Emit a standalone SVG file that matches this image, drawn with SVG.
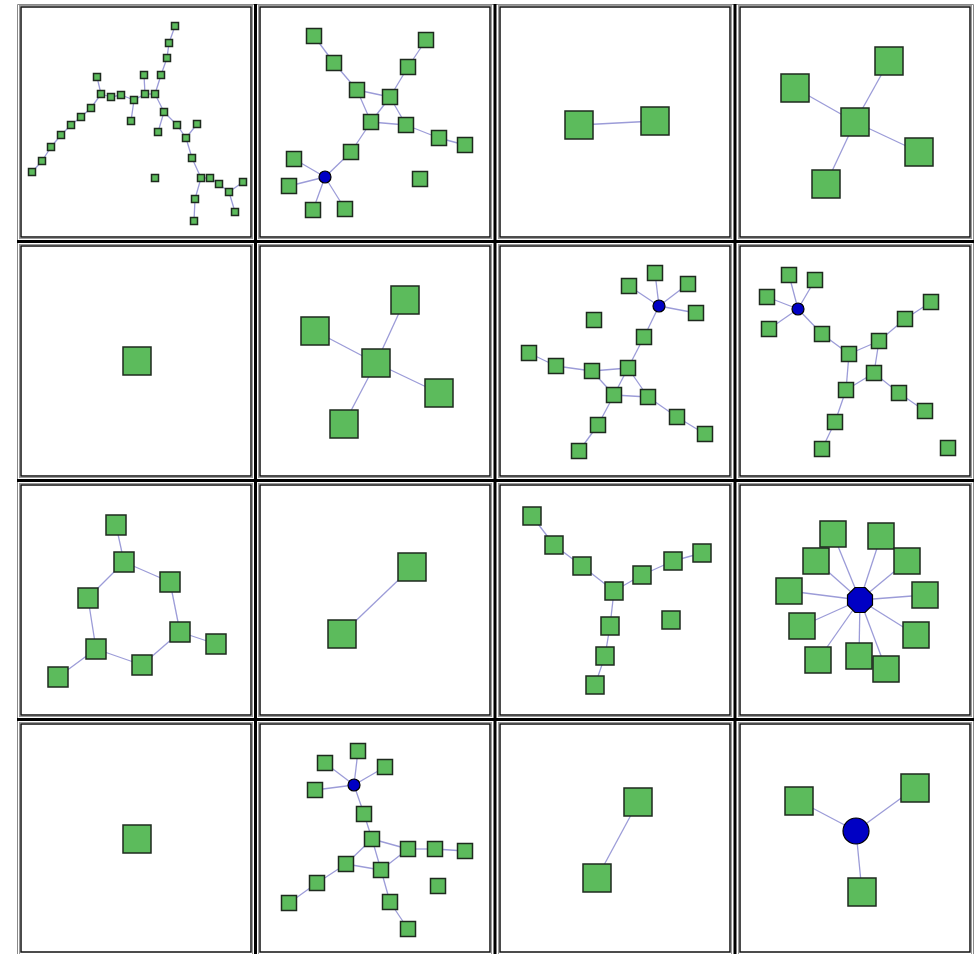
<svg xmlns="http://www.w3.org/2000/svg" xmlns:xlink="http://www.w3.org/1999/xlink" width="975" height="954" viewBox="0 0 975 954">
<style>
.n{fill:#5cbb5c;stroke:#1e2a1e;stroke-width:1.5}
.b{fill:#0000c4;stroke:#000;stroke-width:1.2}
.e line{stroke:#9c9cd8;stroke-width:1.3}
.cell{fill:#fff;stroke:#111;stroke-width:1.5}
.cellg{fill:none;stroke:#9a9a9a;stroke-width:1}
.sep{stroke:#000;stroke-width:3}
.og{fill:none;stroke:#8a8a8a;stroke-width:1}
</style>
<defs>
<rect id="s7" x="-3.5" y="-3.5" width="7" height="7" class="n"/>
<rect id="s15" x="-7.5" y="-7.5" width="15" height="15" class="n"/>
<rect id="s18" x="-9" y="-9" width="18" height="18" class="n"/>
<rect id="s20" x="-10" y="-10" width="20" height="20" class="n"/>
<rect id="s26" x="-13" y="-13" width="26" height="26" class="n"/>
<rect id="s28" x="-14" y="-14" width="28" height="28" class="n"/>
<circle id="c6" r="6" class="b"/>
</defs>
<rect width="975" height="954" fill="#fff"/>
<g id="frame">
<path class="og" d="M17.5,954V4.5H973.5V954"/>
<g class="sep">
<line x1="255.5" y1="4" x2="255.5" y2="954"/>
<line x1="495" y1="4" x2="495" y2="954"/>
<line x1="735" y1="4" x2="735" y2="954"/>
<line x1="17" y1="241.5" x2="974" y2="241.5"/>
<line x1="17" y1="480.5" x2="974" y2="480.5"/>
<line x1="17" y1="719.5" x2="974" y2="719.5"/>
</g>
<g>
<rect class="cellg" x="19.5" y="5.5" width="233" height="233"/><rect class="cell" x="21" y="7" width="230" height="230"/>
<rect class="cellg" x="258.5" y="5.5" width="233" height="233"/><rect class="cell" x="260" y="7" width="230" height="230"/>
<rect class="cellg" x="498.5" y="5.5" width="233" height="233"/><rect class="cell" x="500" y="7" width="230" height="230"/>
<rect class="cellg" x="738.5" y="5.5" width="233" height="233"/><rect class="cell" x="740" y="7" width="230" height="230"/>
<rect class="cellg" x="19.5" y="244.5" width="233" height="233"/><rect class="cell" x="21" y="246" width="230" height="230"/>
<rect class="cellg" x="258.5" y="244.5" width="233" height="233"/><rect class="cell" x="260" y="246" width="230" height="230"/>
<rect class="cellg" x="498.5" y="244.5" width="233" height="233"/><rect class="cell" x="500" y="246" width="230" height="230"/>
<rect class="cellg" x="738.5" y="244.5" width="233" height="233"/><rect class="cell" x="740" y="246" width="230" height="230"/>
<rect class="cellg" x="19.5" y="483.5" width="233" height="233"/><rect class="cell" x="21" y="485" width="230" height="230"/>
<rect class="cellg" x="258.5" y="483.5" width="233" height="233"/><rect class="cell" x="260" y="485" width="230" height="230"/>
<rect class="cellg" x="498.5" y="483.5" width="233" height="233"/><rect class="cell" x="500" y="485" width="230" height="230"/>
<rect class="cellg" x="738.5" y="483.5" width="233" height="233"/><rect class="cell" x="740" y="485" width="230" height="230"/>
<rect class="cellg" x="19.5" y="722.5" width="233" height="232"/><rect class="cell" x="21" y="724" width="230" height="228"/>
<rect class="cellg" x="258.5" y="722.5" width="233" height="232"/><rect class="cell" x="260" y="724" width="230" height="228"/>
<rect class="cellg" x="498.5" y="722.5" width="233" height="232"/><rect class="cell" x="500" y="724" width="230" height="228"/>
<rect class="cellg" x="738.5" y="722.5" width="233" height="232"/><rect class="cell" x="740" y="724" width="230" height="228"/>
</g>
</g>
<g id="connectors" class="e">
<!-- panel 1 -->
<line x1="175" y1="26" x2="169" y2="43"/><line x1="169" y1="43" x2="167" y2="58"/><line x1="167" y1="58" x2="161" y2="75"/><line x1="161" y1="75" x2="155" y2="94"/>
<line x1="144" y1="75" x2="145" y2="94"/><line x1="97" y1="77" x2="101" y2="94"/><line x1="101" y1="94" x2="111" y2="97"/><line x1="111" y1="97" x2="121" y2="95"/>
<line x1="121" y1="95" x2="134" y2="100"/><line x1="134" y1="100" x2="145" y2="94"/><line x1="134" y1="100" x2="131" y2="121"/><line x1="145" y1="94" x2="155" y2="94"/>
<line x1="155" y1="94" x2="164" y2="112"/><line x1="164" y1="112" x2="158" y2="132"/><line x1="164" y1="112" x2="177" y2="125"/><line x1="177" y1="125" x2="186" y2="138"/>
<line x1="197" y1="124" x2="186" y2="138"/><line x1="186" y1="138" x2="192" y2="158"/><line x1="192" y1="158" x2="201" y2="178"/><line x1="201" y1="178" x2="210" y2="178"/>
<line x1="210" y1="178" x2="219" y2="184"/><line x1="219" y1="184" x2="229" y2="192"/><line x1="229" y1="192" x2="243" y2="182"/><line x1="229" y1="192" x2="235" y2="212"/>
<line x1="201" y1="178" x2="195" y2="199"/><line x1="195" y1="199" x2="194" y2="221"/><line x1="101" y1="94" x2="91" y2="108"/><line x1="91" y1="108" x2="81" y2="117"/>
<line x1="81" y1="117" x2="71" y2="125"/><line x1="71" y1="125" x2="61" y2="135"/><line x1="61" y1="135" x2="51" y2="147"/><line x1="51" y1="147" x2="42" y2="161"/><line x1="42" y1="161" x2="32" y2="172"/>
<!-- panel 2 -->
<line x1="314" y1="36" x2="334" y2="63"/><line x1="334" y1="63" x2="357" y2="90"/><line x1="357" y1="90" x2="390" y2="97"/><line x1="357" y1="90" x2="371" y2="122"/>
<line x1="390" y1="97" x2="408" y2="67"/><line x1="408" y1="67" x2="426" y2="40"/><line x1="390" y1="97" x2="371" y2="122"/><line x1="390" y1="97" x2="406" y2="125"/>
<line x1="371" y1="122" x2="406" y2="125"/><line x1="406" y1="125" x2="439" y2="138"/><line x1="439" y1="138" x2="465" y2="145"/><line x1="371" y1="122" x2="351" y2="152"/>
<line x1="351" y1="152" x2="325" y2="177"/><line x1="325" y1="177" x2="294" y2="159"/><line x1="325" y1="177" x2="289" y2="186"/><line x1="325" y1="177" x2="313" y2="210"/><line x1="325" y1="177" x2="345" y2="209"/>
<!-- panel 3 -->
<line x1="579" y1="125" x2="655" y2="121"/>
<!-- panel 4 -->
<line x1="855" y1="122" x2="795" y2="88"/><line x1="855" y1="122" x2="889" y2="61"/><line x1="855" y1="122" x2="919" y2="152"/><line x1="855" y1="122" x2="826" y2="184"/>
<!-- panel 6 -->
<line x1="376" y1="363" x2="405" y2="300"/><line x1="376" y1="363" x2="315" y2="331"/><line x1="376" y1="363" x2="439" y2="393"/><line x1="376" y1="363" x2="344" y2="424"/>
<!-- panel 7 -->
<line x1="659" y1="306" x2="655" y2="273"/><line x1="659" y1="306" x2="629" y2="286"/><line x1="659" y1="306" x2="688" y2="284"/><line x1="659" y1="306" x2="696" y2="313"/>
<line x1="659" y1="306" x2="644" y2="337"/><line x1="644" y1="337" x2="628" y2="368"/><line x1="529" y1="353" x2="556" y2="366"/><line x1="556" y1="366" x2="592" y2="371"/>
<line x1="592" y1="371" x2="628" y2="368"/><line x1="592" y1="371" x2="614" y2="395"/><line x1="628" y1="368" x2="614" y2="395"/><line x1="628" y1="368" x2="648" y2="397"/>
<line x1="614" y1="395" x2="648" y2="397"/><line x1="648" y1="397" x2="677" y2="417"/><line x1="677" y1="417" x2="705" y2="434"/><line x1="614" y1="395" x2="598" y2="425"/><line x1="598" y1="425" x2="579" y2="451"/>
<!-- panel 8 -->
<line x1="798" y1="309" x2="789" y2="275"/><line x1="798" y1="309" x2="815" y2="280"/><line x1="798" y1="309" x2="767" y2="297"/><line x1="798" y1="309" x2="769" y2="329"/>
<line x1="798" y1="309" x2="822" y2="334"/><line x1="822" y1="334" x2="849" y2="354"/><line x1="849" y1="354" x2="879" y2="341"/><line x1="849" y1="354" x2="846" y2="390"/>
<line x1="879" y1="341" x2="874" y2="373"/><line x1="874" y1="373" x2="846" y2="390"/><line x1="874" y1="373" x2="899" y2="393"/><line x1="899" y1="393" x2="925" y2="411"/>
<line x1="846" y1="390" x2="835" y2="422"/><line x1="835" y1="422" x2="822" y2="449"/><line x1="879" y1="341" x2="905" y2="319"/><line x1="905" y1="319" x2="931" y2="302"/>
<!-- panel 9 -->
<line x1="116" y1="525" x2="124" y2="562"/><line x1="124" y1="562" x2="170" y2="582"/><line x1="124" y1="562" x2="88" y2="598"/><line x1="170" y1="582" x2="180" y2="632"/>
<line x1="180" y1="632" x2="216" y2="644"/><line x1="180" y1="632" x2="142" y2="665"/><line x1="142" y1="665" x2="96" y2="649"/><line x1="96" y1="649" x2="88" y2="598"/><line x1="96" y1="649" x2="58" y2="677"/>
<!-- panel 10 -->
<line x1="412" y1="567" x2="342" y2="634"/>
<!-- panel 11 -->
<line x1="532" y1="516" x2="554" y2="545"/><line x1="554" y1="545" x2="582" y2="566"/><line x1="582" y1="566" x2="614" y2="591"/><line x1="614" y1="591" x2="642" y2="575"/>
<line x1="642" y1="575" x2="673" y2="561"/><line x1="673" y1="561" x2="702" y2="553"/><line x1="614" y1="591" x2="610" y2="626"/><line x1="610" y1="626" x2="605" y2="656"/><line x1="605" y1="656" x2="595" y2="685"/>
<!-- panel 12 -->
<line x1="860" y1="600" x2="833" y2="534"/><line x1="860" y1="600" x2="881" y2="536"/><line x1="860" y1="600" x2="816" y2="561"/><line x1="860" y1="600" x2="907" y2="561"/>
<line x1="860" y1="600" x2="789" y2="591"/><line x1="860" y1="600" x2="925" y2="595"/><line x1="860" y1="600" x2="802" y2="626"/><line x1="860" y1="600" x2="916" y2="635"/>
<line x1="860" y1="600" x2="818" y2="660"/><line x1="860" y1="600" x2="859" y2="656"/><line x1="860" y1="600" x2="886" y2="669"/>
<!-- panel 14 -->
<line x1="354" y1="785" x2="358" y2="751"/><line x1="354" y1="785" x2="325" y2="763"/><line x1="354" y1="785" x2="385" y2="767"/><line x1="354" y1="785" x2="315" y2="790"/>
<line x1="354" y1="785" x2="364" y2="814"/><line x1="364" y1="814" x2="372" y2="839"/><line x1="372" y1="839" x2="408" y2="849"/><line x1="372" y1="839" x2="346" y2="864"/>
<line x1="372" y1="839" x2="381" y2="870"/><line x1="346" y1="864" x2="381" y2="870"/><line x1="381" y1="870" x2="408" y2="849"/><line x1="408" y1="849" x2="435" y2="849"/>
<line x1="435" y1="849" x2="465" y2="851"/><line x1="346" y1="864" x2="317" y2="883"/><line x1="317" y1="883" x2="289" y2="903"/><line x1="381" y1="870" x2="390" y2="902"/><line x1="390" y1="902" x2="408" y2="929"/>
<!-- panel 15 -->
<line x1="638" y1="802" x2="597" y2="878"/>
<!-- panel 16 -->
<line x1="856" y1="831" x2="799" y2="801"/><line x1="856" y1="831" x2="915" y2="788"/><line x1="856" y1="831" x2="862" y2="892"/>
</g>
<g id="panel1">
<g id="p1n1" transform="translate(175,26)"><use href="#s7"/></g>
<g id="p1n2" transform="translate(169,43)"><use href="#s7"/></g>
<g id="p1n3" transform="translate(167,58)"><use href="#s7"/></g>
<g id="p1n4" transform="translate(161,75)"><use href="#s7"/></g>
<g id="p1n5" transform="translate(144,75)"><use href="#s7"/></g>
<g id="p1n6" transform="translate(97,77)"><use href="#s7"/></g>
<g id="p1n7" transform="translate(101,94)"><use href="#s7"/></g>
<g id="p1n8" transform="translate(111,97)"><use href="#s7"/></g>
<g id="p1n9" transform="translate(121,95)"><use href="#s7"/></g>
<g id="p1n10" transform="translate(134,100)"><use href="#s7"/></g>
<g id="p1n11" transform="translate(145,94)"><use href="#s7"/></g>
<g id="p1n12" transform="translate(155,94)"><use href="#s7"/></g>
<g id="p1n13" transform="translate(131,121)"><use href="#s7"/></g>
<g id="p1n14" transform="translate(91,108)"><use href="#s7"/></g>
<g id="p1n15" transform="translate(81,117)"><use href="#s7"/></g>
<g id="p1n16" transform="translate(71,125)"><use href="#s7"/></g>
<g id="p1n17" transform="translate(61,135)"><use href="#s7"/></g>
<g id="p1n18" transform="translate(51,147)"><use href="#s7"/></g>
<g id="p1n19" transform="translate(42,161)"><use href="#s7"/></g>
<g id="p1n20" transform="translate(32,172)"><use href="#s7"/></g>
<g id="p1n21" transform="translate(164,112)"><use href="#s7"/></g>
<g id="p1n22" transform="translate(158,132)"><use href="#s7"/></g>
<g id="p1n23" transform="translate(177,125)"><use href="#s7"/></g>
<g id="p1n24" transform="translate(197,124)"><use href="#s7"/></g>
<g id="p1n25" transform="translate(186,138)"><use href="#s7"/></g>
<g id="p1n26" transform="translate(192,158)"><use href="#s7"/></g>
<g id="p1n27" transform="translate(155,178)"><use href="#s7"/></g>
<g id="p1n28" transform="translate(201,178)"><use href="#s7"/></g>
<g id="p1n29" transform="translate(210,178)"><use href="#s7"/></g>
<g id="p1n30" transform="translate(219,184)"><use href="#s7"/></g>
<g id="p1n31" transform="translate(229,192)"><use href="#s7"/></g>
<g id="p1n32" transform="translate(243,182)"><use href="#s7"/></g>
<g id="p1n33" transform="translate(235,212)"><use href="#s7"/></g>
<g id="p1n34" transform="translate(195,199)"><use href="#s7"/></g>
<g id="p1n35" transform="translate(194,221)"><use href="#s7"/></g>
</g>
<g id="panel2">
<g id="p2a" transform="translate(314,36)"><use href="#s15"/></g>
<g id="p2b" transform="translate(334,63)"><use href="#s15"/></g>
<g id="p2c" transform="translate(357,90)"><use href="#s15"/></g>
<g id="p2d" transform="translate(390,97)"><use href="#s15"/></g>
<g id="p2e" transform="translate(408,67)"><use href="#s15"/></g>
<g id="p2f" transform="translate(426,40)"><use href="#s15"/></g>
<g id="p2g" transform="translate(371,122)"><use href="#s15"/></g>
<g id="p2h" transform="translate(406,125)"><use href="#s15"/></g>
<g id="p2i" transform="translate(439,138)"><use href="#s15"/></g>
<g id="p2j" transform="translate(465,145)"><use href="#s15"/></g>
<g id="p2k" transform="translate(351,152)"><use href="#s15"/></g>
<g id="p2hub" transform="translate(325,177)"><use href="#c6"/></g>
<g id="p2l" transform="translate(294,159)"><use href="#s15"/></g>
<g id="p2m" transform="translate(289,186)"><use href="#s15"/></g>
<g id="p2n" transform="translate(313,210)"><use href="#s15"/></g>
<g id="p2o" transform="translate(345,209)"><use href="#s15"/></g>
<g id="p2p" transform="translate(420,179)"><use href="#s15"/></g>
</g>
<g id="panel3">
<g id="p3a" transform="translate(579,125)"><use href="#s28"/></g>
<g id="p3b" transform="translate(655,121)"><use href="#s28"/></g>
</g>
<g id="panel4">
<g id="p4a" transform="translate(795,88)"><use href="#s28"/></g>
<g id="p4b" transform="translate(889,61)"><use href="#s28"/></g>
<g id="p4c" transform="translate(855,122)"><use href="#s28"/></g>
<g id="p4d" transform="translate(919,152)"><use href="#s28"/></g>
<g id="p4e" transform="translate(826,184)"><use href="#s28"/></g>
</g>
<g id="panel5">
<g id="p5a" transform="translate(137,361)"><use href="#s28"/></g>
</g>
<g id="panel6">
<g id="p6a" transform="translate(405,300)"><use href="#s28"/></g>
<g id="p6b" transform="translate(315,331)"><use href="#s28"/></g>
<g id="p6c" transform="translate(376,363)"><use href="#s28"/></g>
<g id="p6d" transform="translate(439,393)"><use href="#s28"/></g>
<g id="p6e" transform="translate(344,424)"><use href="#s28"/></g>
</g>
<g id="panel7">
<g id="p7a" transform="translate(655,273)"><use href="#s15"/></g>
<g id="p7b" transform="translate(629,286)"><use href="#s15"/></g>
<g id="p7c" transform="translate(688,284)"><use href="#s15"/></g>
<g id="p7d" transform="translate(696,313)"><use href="#s15"/></g>
<g id="p7hub" transform="translate(659,306)"><use href="#c6"/></g>
<g id="p7e" transform="translate(594,320)"><use href="#s15"/></g>
<g id="p7f" transform="translate(644,337)"><use href="#s15"/></g>
<g id="p7g" transform="translate(529,353)"><use href="#s15"/></g>
<g id="p7h" transform="translate(556,366)"><use href="#s15"/></g>
<g id="p7i" transform="translate(592,371)"><use href="#s15"/></g>
<g id="p7j" transform="translate(628,368)"><use href="#s15"/></g>
<g id="p7k" transform="translate(614,395)"><use href="#s15"/></g>
<g id="p7l" transform="translate(648,397)"><use href="#s15"/></g>
<g id="p7m" transform="translate(677,417)"><use href="#s15"/></g>
<g id="p7n" transform="translate(705,434)"><use href="#s15"/></g>
<g id="p7o" transform="translate(598,425)"><use href="#s15"/></g>
<g id="p7p" transform="translate(579,451)"><use href="#s15"/></g>
</g>
<g id="panel8">
<g id="p8hub" transform="translate(798,309)"><use href="#c6"/></g>
<g id="p8a" transform="translate(789,275)"><use href="#s15"/></g>
<g id="p8b" transform="translate(815,280)"><use href="#s15"/></g>
<g id="p8c" transform="translate(767,297)"><use href="#s15"/></g>
<g id="p8d" transform="translate(769,329)"><use href="#s15"/></g>
<g id="p8e" transform="translate(822,334)"><use href="#s15"/></g>
<g id="p8f" transform="translate(849,354)"><use href="#s15"/></g>
<g id="p8g" transform="translate(879,341)"><use href="#s15"/></g>
<g id="p8h" transform="translate(905,319)"><use href="#s15"/></g>
<g id="p8i" transform="translate(931,302)"><use href="#s15"/></g>
<g id="p8j" transform="translate(874,373)"><use href="#s15"/></g>
<g id="p8k" transform="translate(846,390)"><use href="#s15"/></g>
<g id="p8l" transform="translate(835,422)"><use href="#s15"/></g>
<g id="p8m" transform="translate(822,449)"><use href="#s15"/></g>
<g id="p8n" transform="translate(899,393)"><use href="#s15"/></g>
<g id="p8o" transform="translate(925,411)"><use href="#s15"/></g>
<g id="p8p" transform="translate(948,448)"><use href="#s15"/></g>
</g>
<g id="panel9">
<g id="p9a" transform="translate(116,525)"><use href="#s20"/></g>
<g id="p9b" transform="translate(124,562)"><use href="#s20"/></g>
<g id="p9c" transform="translate(170,582)"><use href="#s20"/></g>
<g id="p9d" transform="translate(88,598)"><use href="#s20"/></g>
<g id="p9e" transform="translate(180,632)"><use href="#s20"/></g>
<g id="p9f" transform="translate(216,644)"><use href="#s20"/></g>
<g id="p9g" transform="translate(96,649)"><use href="#s20"/></g>
<g id="p9h" transform="translate(142,665)"><use href="#s20"/></g>
<g id="p9i" transform="translate(58,677)"><use href="#s20"/></g>
</g>
<g id="panel10">
<g id="p10a" transform="translate(412,567)"><use href="#s28"/></g>
<g id="p10b" transform="translate(342,634)"><use href="#s28"/></g>
</g>
<g id="panel11">
<g id="p11a" transform="translate(532,516)"><use href="#s18"/></g>
<g id="p11b" transform="translate(554,545)"><use href="#s18"/></g>
<g id="p11c" transform="translate(582,566)"><use href="#s18"/></g>
<g id="p11d" transform="translate(614,591)"><use href="#s18"/></g>
<g id="p11e" transform="translate(642,575)"><use href="#s18"/></g>
<g id="p11f" transform="translate(673,561)"><use href="#s18"/></g>
<g id="p11g" transform="translate(702,553)"><use href="#s18"/></g>
<g id="p11h" transform="translate(671,620)"><use href="#s18"/></g>
<g id="p11i" transform="translate(610,626)"><use href="#s18"/></g>
<g id="p11j" transform="translate(605,656)"><use href="#s18"/></g>
<g id="p11k" transform="translate(595,685)"><use href="#s18"/></g>
</g>
<g id="panel12">
<g id="p12hub"><polygon class="b" points="865,587.5 872.5,595 872.5,605 865,612.5 855,612.5 847.5,605 847.5,595 855,587.5"/></g>
<g id="p12c" transform="translate(816,561)"><use href="#s26"/></g>
<g id="p12a" transform="translate(833,534)"><use href="#s26"/></g>
<g id="p12b" transform="translate(881,536)"><use href="#s26"/></g>
<g id="p12d" transform="translate(907,561)"><use href="#s26"/></g>
<g id="p12e" transform="translate(789,591)"><use href="#s26"/></g>
<g id="p12f" transform="translate(925,595)"><use href="#s26"/></g>
<g id="p12g" transform="translate(802,626)"><use href="#s26"/></g>
<g id="p12h" transform="translate(916,635)"><use href="#s26"/></g>
<g id="p12i" transform="translate(818,660)"><use href="#s26"/></g>
<g id="p12j" transform="translate(859,656)"><use href="#s26"/></g>
<g id="p12k" transform="translate(886,669)"><use href="#s26"/></g>
</g>
<g id="panel13">
<g id="p13a" transform="translate(137,839)"><use href="#s28"/></g>
</g>
<g id="panel14">
<g id="p14hub" transform="translate(354,785)"><use href="#c6"/></g>
<g id="p14a" transform="translate(358,751)"><use href="#s15"/></g>
<g id="p14b" transform="translate(325,763)"><use href="#s15"/></g>
<g id="p14c" transform="translate(385,767)"><use href="#s15"/></g>
<g id="p14d" transform="translate(315,790)"><use href="#s15"/></g>
<g id="p14e" transform="translate(364,814)"><use href="#s15"/></g>
<g id="p14f" transform="translate(372,839)"><use href="#s15"/></g>
<g id="p14g" transform="translate(408,849)"><use href="#s15"/></g>
<g id="p14h" transform="translate(435,849)"><use href="#s15"/></g>
<g id="p14i" transform="translate(465,851)"><use href="#s15"/></g>
<g id="p14j" transform="translate(346,864)"><use href="#s15"/></g>
<g id="p14k" transform="translate(381,870)"><use href="#s15"/></g>
<g id="p14l" transform="translate(317,883)"><use href="#s15"/></g>
<g id="p14m" transform="translate(289,903)"><use href="#s15"/></g>
<g id="p14n" transform="translate(438,886)"><use href="#s15"/></g>
<g id="p14o" transform="translate(390,902)"><use href="#s15"/></g>
<g id="p14p" transform="translate(408,929)"><use href="#s15"/></g>
</g>
<g id="panel15">
<g id="p15a" transform="translate(638,802)"><use href="#s28"/></g>
<g id="p15b" transform="translate(597,878)"><use href="#s28"/></g>
</g>
<g id="panel16">
<g id="p16hub"><circle class="b" cx="856" cy="831" r="13"/></g>
<g id="p16a" transform="translate(799,801)"><use href="#s28"/></g>
<g id="p16b" transform="translate(915,788)"><use href="#s28"/></g>
<g id="p16c" transform="translate(862,892)"><use href="#s28"/></g>
</g>
</svg>
